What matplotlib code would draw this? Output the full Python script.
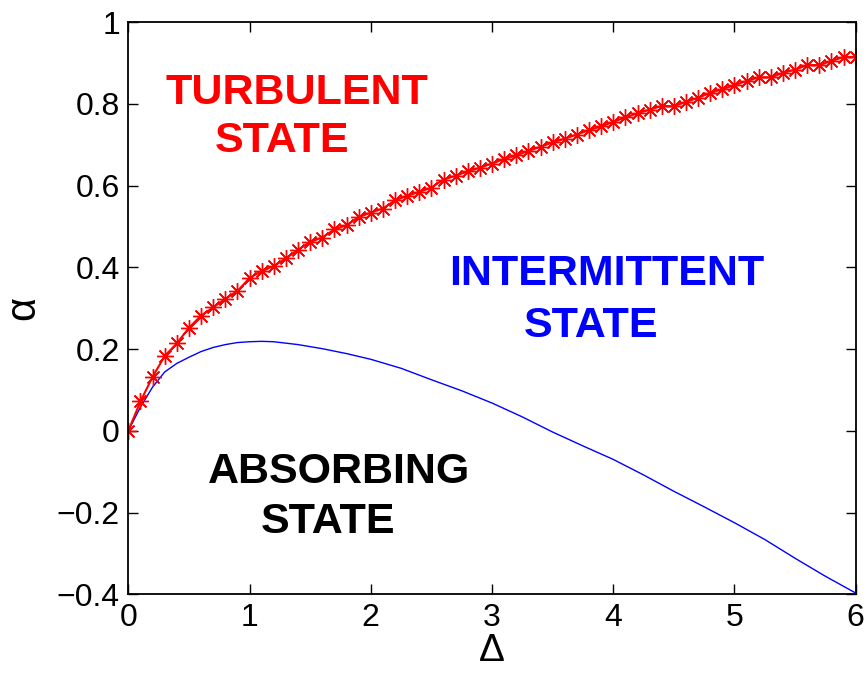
import matplotlib
matplotlib.use("Agg")
import matplotlib.pyplot as plt
import numpy as np

plt.rcParams['font.family'] = ['Liberation Sans', 'DejaVu Sans']

# Red curve (turbulent boundary), sampled every 0.1 in Delta
delta_red = [round(0.1 * i, 1) for i in range(61)]
alpha_red = [0.0, 0.072, 0.132, 0.183, 0.214, 0.252, 0.282, 0.302, 0.323, 0.342,
             0.374, 0.391, 0.403, 0.422, 0.443, 0.462, 0.473, 0.493, 0.503, 0.523,
             0.534, 0.544, 0.564, 0.575, 0.585, 0.595, 0.615, 0.624, 0.635, 0.644,
             0.654, 0.665, 0.674, 0.685, 0.695, 0.706, 0.715, 0.725, 0.736, 0.745,
             0.756, 0.767, 0.777, 0.786, 0.795, 0.794, 0.805, 0.815, 0.827, 0.836,
             0.846, 0.856, 0.865, 0.865, 0.876, 0.884, 0.895, 0.895, 0.905, 0.915,
             0.915]

# Blue curve (absorbing boundary)
delta_blue = [0.0, 0.1, 0.2, 0.3, 0.4, 0.5, 0.6, 0.7, 0.8, 0.9, 1.0, 1.1, 1.2,
              1.4, 1.6, 1.8, 2.0, 2.25, 2.5, 2.75, 3.0, 3.25, 3.5, 3.75, 4.0,
              4.25, 4.5, 4.75, 5.0, 5.25, 5.5, 5.75, 6.0]
alpha_blue = [0.0, 0.058, 0.107, 0.144, 0.165, 0.180, 0.194, 0.204, 0.211, 0.216,
              0.218, 0.219, 0.218, 0.211, 0.201, 0.189, 0.175, 0.153, 0.125, 0.098,
              0.068, 0.034, -0.003, -0.037, -0.070, -0.108, -0.148, -0.186, -0.225,
              -0.266, -0.312, -0.356, -0.397]

xticks = [0, 1, 2, 3, 4, 5, 6]
yticks = [-0.4, -0.2, 0, 0.2, 0.4, 0.6, 0.8, 1]
ytick_labels = ['\u22120.4', '\u22120.2', '0', '0.2', '0.4', '0.6', '0.8', '1']

# Region labels: (text, x, baseline y, colour)
region_labels = [
    ('TURBULENT', 1.387, 0.801, '#ff0000'),
    ('STATE', 1.266, 0.683, '#ff0000'),
    ('INTERMITTENT', 3.946, 0.356, '#0000ff'),
    ('STATE', 3.814, 0.230, '#0000ff'),
    ('ABSORBING', 1.736, -0.128, 'black'),
    ('STATE', 1.645, -0.251, 'black'),
]

fig = plt.figure(figsize=(8.67, 6.73), dpi=100)
ax = fig.add_axes([0.148, 0.117, 0.839, 0.850])

ax.plot(delta_blue, alpha_blue, color='#0000ff', linewidth=1.0)
ax.plot(delta_red, alpha_red, color='#ff0000', linewidth=1.5,
        marker=(8, 2, 0), markersize=12, markeredgewidth=1.0)

ax.set_xlim(0, 6)
ax.set_ylim(-0.4, 1)
ax.set_xticks(xticks)
ax.set_xticklabels([str(t) for t in xticks])
ax.set_yticks(yticks)
ax.set_yticklabels(ytick_labels)
ax.tick_params(direction='in', top=True, right=True, labelsize=23, length=7,
               width=1.0, pad=6)
for s in ax.spines.values():
    s.set_linewidth(1.3)

ax.set_xlabel('\u0394', fontsize=28, labelpad=0)
ax.set_ylabel('\u03b1', fontsize=30, labelpad=10)

for txt, x, y, c in region_labels:
    ax.text(x, y, txt, color=c, fontsize=31, fontweight='bold',
            ha='center', va='baseline')

fig.savefig('out.png', dpi=100)
